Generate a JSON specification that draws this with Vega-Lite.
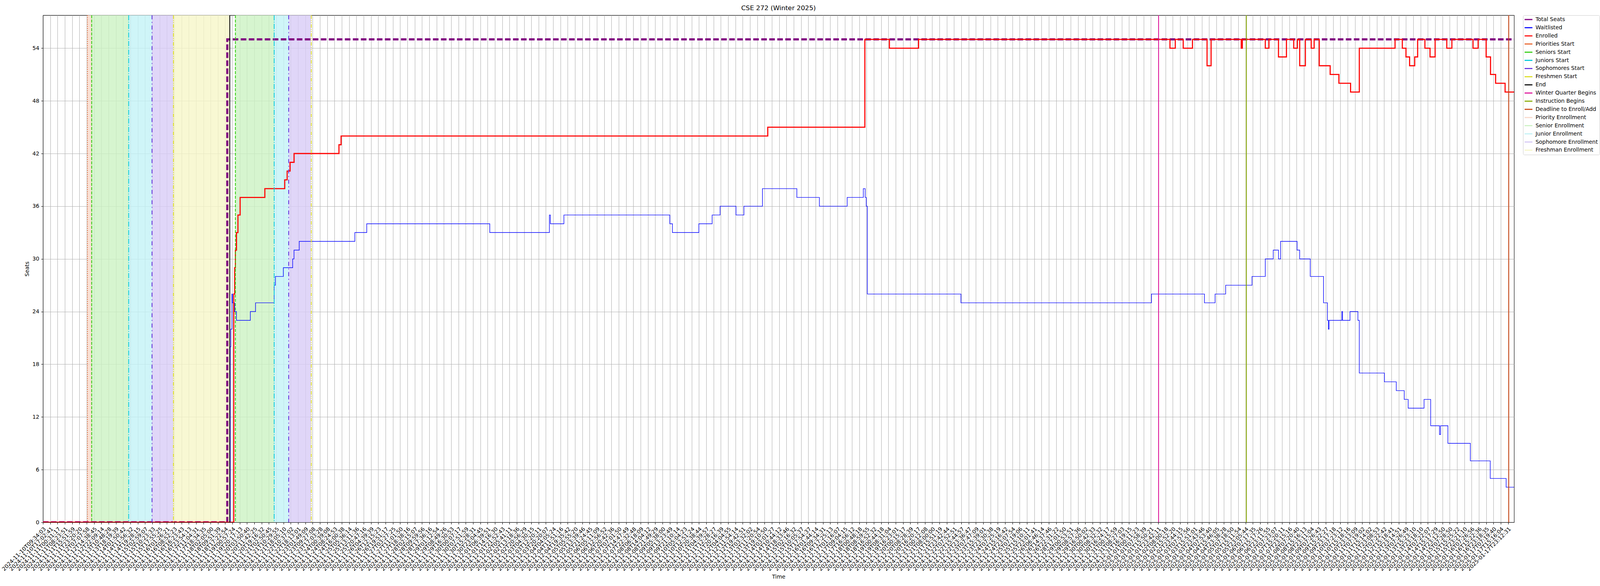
{
  "$schema": "https://vega.github.io/schema/vega-lite/v6.json",
  "width": "container",
  "height": 1500,
  "padding": {"left": 2, "top": 12, "right": 0, "bottom": 16},
  "autosize": {"type": "fit", "contains": "padding"},
  "title": {
    "text": "CSE 272 (Winter 2025)",
    "fontSize": 16.7,
    "fontWeight": "normal",
    "font": "DejaVu Sans",
    "color": "#000000",
    "offset": 8.3,
    "anchor": "middle",
    "frame": "group"
  },
  "params": [
    {
      "name": "tickLabels",
      "value": ["2024-11-10T09:34:03","2024-11-10T17:02:41","2024-11-11T00:31:17","2024-11-11T08:23:51","2024-11-11T15:51:59","2024-11-11T23:20:20","2024-11-12T07:07:58","2024-11-12T14:38:45","2024-11-12T22:09:14","2024-11-13T10:48:28","2024-11-13T18:19:39","2024-11-14T01:50:42","2024-11-14T11:56:32","2024-11-14T19:28:15","2024-11-15T02:59:07","2024-11-15T10:23:33","2024-11-15T17:55:25","2024-11-16T01:26:21","2024-11-16T08:52:23","2024-11-16T16:23:43","2024-11-16T23:54:13","2024-11-17T11:04:31","2024-11-17T18:34:35","2024-11-18T02:05:00","2024-11-18T09:51:39","2024-11-18T17:22:54","2024-11-19T00:57:24","2024-11-19T20:17:13","2024-11-20T03:50:40","2024-11-20T11:42:25","2024-11-20T19:16:32","2024-11-21T02:50:45","2024-11-21T10:29:55","2024-11-21T18:05:10","2024-11-22T10:37:02","2024-11-22T18:13:01","2024-11-23T01:49:09","2024-11-23T09:27:08","2024-11-23T17:03:28","2024-11-24T00:39:08","2024-11-24T08:24:53","2024-11-24T16:00:38","2024-11-25T05:36:14","2024-11-25T13:11:36","2024-11-25T20:47:16","2024-11-26T04:39:39","2024-11-26T12:15:23","2024-11-26T19:51:17","2024-11-27T03:27:25","2024-11-27T11:01:50","2024-11-27T18:38:16","2024-11-28T02:15:07","2024-11-28T09:59:56","2024-11-28T17:36:16","2024-11-29T01:12:54","2024-11-29T08:49:26","2024-11-29T16:30:53","2024-11-30T00:07:17","2024-11-30T07:51:59","2024-11-30T15:28:31","2024-11-30T23:04:45","2024-12-01T06:39:51","2024-12-01T14:16:30","2024-12-01T21:52:43","2024-12-02T05:41:11","2024-12-02T13:18:36","2024-12-02T20:56:29","2024-12-03T04:30:15","2024-12-03T12:20:11","2024-12-03T20:20:07","2024-12-04T04:05:24","2024-12-04T11:51:16","2024-12-04T19:35:42","2024-12-05T05:55:20","2024-12-05T13:39:46","2024-12-05T21:24:45","2024-12-06T05:11:09","2024-12-06T12:56:52","2024-12-06T20:42:36","2024-12-07T07:01:50","2024-12-07T14:47:49","2024-12-07T22:32:48","2024-12-08T06:18:09","2024-12-08T14:04:12","2024-12-08T21:49:29","2024-12-09T05:38:00","2024-12-09T13:23:49","2024-12-09T21:10:14","2024-12-10T05:04:23","2024-12-10T12:51:24","2024-12-10T20:38:44","2024-12-11T04:39:57","2024-12-11T12:28:27","2024-12-11T20:16:39","2024-12-12T04:04:55","2024-12-12T11:54:14","2024-12-12T19:42:51","2024-12-13T03:32:02","2024-12-13T11:20:54","2024-12-13T19:10:50","2024-12-14T03:01:27","2024-12-14T10:44:12","2024-12-14T18:33:46","2024-12-15T02:16:32","2024-12-15T10:05:37","2024-12-15T17:54:37","2024-12-16T01:44:14","2024-12-16T09:34:31","2024-12-16T17:25:13","2024-12-17T01:16:07","2024-12-17T09:04:15","2024-12-17T16:56:12","2024-12-18T00:48:18","2024-12-18T08:59:55","2024-12-18T16:52:32","2024-12-19T00:44:18","2024-12-19T08:31:04","2024-12-19T16:23:01","2024-12-20T00:15:17","2024-12-20T08:28:39","2024-12-20T16:20:17","2024-12-21T00:12:08","2024-12-21T08:00:00","2024-12-21T15:51:19","2024-12-21T23:42:44","2024-12-22T07:52:51","2024-12-22T15:44:57","2024-12-22T23:36:47","2024-12-23T07:47:09","2024-12-23T15:39:01","2024-12-23T23:30:38","2024-12-24T07:25:19","2024-12-24T15:16:42","2024-12-24T23:07:54","2024-12-25T07:19:06","2024-12-25T15:10:11","2024-12-25T23:01:41","2024-12-26T06:46:14","2024-12-26T14:37:46","2024-12-26T22:31:22","2024-12-28T17:01:50","2024-12-29T00:53:51","2024-12-29T08:57:36","2024-12-29T16:50:02","2024-12-30T00:42:33","2024-12-30T08:32:32","2024-12-30T16:24:17","2024-12-31T00:15:59","2024-12-31T08:27:03","2024-12-31T16:19:15","2025-01-01T00:11:23","2025-01-01T07:58:39","2025-01-01T15:50:21","2025-01-01T23:42:11","2025-01-02T08:00:18","2025-01-02T15:52:20","2025-01-02T23:44:15","2025-01-03T07:57:56","2025-01-03T15:51:01","2025-01-03T23:43:46","2025-01-04T07:53:40","2025-01-04T15:46:05","2025-01-04T23:38:28","2025-01-05T07:18:50","2025-01-05T15:11:54","2025-01-05T23:05:44","2025-01-06T07:17:35","2025-01-06T15:17:26","2025-01-06T23:11:55","2025-01-07T07:23:07","2025-01-07T15:20:11","2025-01-07T23:15:16","2025-01-08T07:20:40","2025-01-08T15:16:13","2025-01-08T23:11:04","2025-01-09T07:26:43","2025-01-09T15:22:27","2025-01-09T23:17:18","2025-01-10T07:23:12","2025-01-10T15:18:16","2025-01-10T23:13:09","2025-01-11T07:19:02","2025-01-11T15:14:02","2025-01-11T23:08:53","2025-01-12T07:22:42","2025-01-12T15:18:41","2025-01-12T23:14:51","2025-01-13T07:26:49","2025-01-13T15:23:10","2025-01-13T23:18:10","2025-01-14T07:22:07","2025-01-14T15:17:29","2025-01-14T23:12:50","2025-01-15T07:28:50","2025-01-15T15:25:22","2025-01-15T23:21:10","2025-01-16T07:26:56","2025-01-16T15:22:36","2025-01-16T23:18:35","2025-01-17T07:19:40","2025-01-17T15:16:04","2025-01-17T23:12:31"]
    }
  ],
  "datasets": {
    "spans": [
      {"series": "Priority Enrollment", "start": 6.10, "end": 6.68},
      {"series": "Senior Enrollment", "start": 6.68, "end": 11.76},
      {"series": "Junior Enrollment", "start": 11.76, "end": 14.96},
      {"series": "Sophomore Enrollment", "start": 14.96, "end": 17.90},
      {"series": "Freshman Enrollment", "start": 17.90, "end": 25.63},
      {"series": "Senior Enrollment", "start": 26.40, "end": 31.72},
      {"series": "Junior Enrollment", "start": 31.72, "end": 33.71},
      {"series": "Sophomore Enrollment", "start": 33.71, "end": 36.81}
    ],
    "events": [
      {"series": "Priorities Start", "pos": 6.10},
      {"series": "Seniors Start", "pos": 6.68},
      {"series": "Juniors Start", "pos": 11.76},
      {"series": "Sophomores Start", "pos": 14.96},
      {"series": "Freshmen Start", "pos": 17.90},
      {"series": "End", "pos": 25.63},
      {"series": "Seniors Start", "pos": 26.40},
      {"series": "Juniors Start", "pos": 31.72},
      {"series": "Sophomores Start", "pos": 33.71},
      {"series": "Freshmen Start", "pos": 36.81},
      {"series": "Winter Quarter Begins", "pos": 153.06},
      {"series": "Instruction Begins", "pos": 165.10},
      {"series": "Deadline to Enroll/Add", "pos": 201.10}
    ],
    "seats": [
      {"x": 0, "v": 0},
      {"x": 25.29, "v": 55},
      {"x": 201.83, "v": 55}
    ],
    "waitlisted": [
      {"x": 0, "v": 0}, {"x": 25.70, "v": 20}, {"x": 25.78, "v": 22}, {"x": 25.92, "v": 26},
      {"x": 26.00, "v": 25}, {"x": 26.30, "v": 24}, {"x": 26.55, "v": 23}, {"x": 28.45, "v": 24},
      {"x": 29.17, "v": 25}, {"x": 31.71, "v": 27}, {"x": 31.89, "v": 28}, {"x": 32.98, "v": 29},
      {"x": 34.26, "v": 30}, {"x": 34.44, "v": 31}, {"x": 35.16, "v": 32}, {"x": 42.79, "v": 33},
      {"x": 44.42, "v": 34}, {"x": 61.30, "v": 33}, {"x": 69.48, "v": 35}, {"x": 69.62, "v": 34},
      {"x": 71.47, "v": 35}, {"x": 86.00, "v": 34}, {"x": 86.36, "v": 33}, {"x": 89.99, "v": 34},
      {"x": 91.81, "v": 35}, {"x": 92.90, "v": 36}, {"x": 95.08, "v": 35}, {"x": 96.17, "v": 36},
      {"x": 98.71, "v": 38}, {"x": 103.43, "v": 37}, {"x": 106.52, "v": 36}, {"x": 110.33, "v": 37},
      {"x": 112.55, "v": 38}, {"x": 112.80, "v": 37}, {"x": 112.95, "v": 36}, {"x": 113.10, "v": 26},
      {"x": 125.94, "v": 25}, {"x": 152.08, "v": 26}, {"x": 159.35, "v": 25}, {"x": 160.81, "v": 26},
      {"x": 162.26, "v": 27}, {"x": 165.88, "v": 28}, {"x": 167.70, "v": 30}, {"x": 168.79, "v": 31},
      {"x": 169.51, "v": 30}, {"x": 169.80, "v": 32}, {"x": 172.06, "v": 31}, {"x": 172.42, "v": 30},
      {"x": 173.87, "v": 28}, {"x": 175.69, "v": 25}, {"x": 176.23, "v": 23}, {"x": 176.35, "v": 22},
      {"x": 176.45, "v": 23}, {"x": 178.20, "v": 24}, {"x": 178.30, "v": 23}, {"x": 179.32, "v": 24},
      {"x": 180.41, "v": 23}, {"x": 180.59, "v": 17}, {"x": 184.04, "v": 16}, {"x": 185.67, "v": 15},
      {"x": 186.76, "v": 14}, {"x": 187.30, "v": 13}, {"x": 189.48, "v": 14}, {"x": 190.39, "v": 11},
      {"x": 191.60, "v": 10}, {"x": 191.75, "v": 11}, {"x": 192.75, "v": 9}, {"x": 195.83, "v": 7},
      {"x": 198.56, "v": 5}, {"x": 200.74, "v": 4}, {"x": 201.83, "v": 4}
    ],
    "enrolled": [
      {"x": 0, "v": 0}, {"x": 26.18, "v": 26}, {"x": 26.30, "v": 29}, {"x": 26.40, "v": 31},
      {"x": 26.55, "v": 33}, {"x": 26.75, "v": 35}, {"x": 27.05, "v": 37}, {"x": 30.44, "v": 38},
      {"x": 33.17, "v": 39}, {"x": 33.50, "v": 40}, {"x": 33.90, "v": 41}, {"x": 34.45, "v": 42},
      {"x": 40.61, "v": 43}, {"x": 40.90, "v": 44}, {"x": 99.44, "v": 45}, {"x": 112.76, "v": 55},
      {"x": 116.13, "v": 54}, {"x": 120.13, "v": 55}, {"x": 154.62, "v": 54}, {"x": 155.35, "v": 55},
      {"x": 156.44, "v": 54}, {"x": 157.71, "v": 55}, {"x": 159.71, "v": 52}, {"x": 160.26, "v": 55},
      {"x": 164.40, "v": 54}, {"x": 164.55, "v": 55}, {"x": 167.70, "v": 54}, {"x": 168.20, "v": 55},
      {"x": 169.51, "v": 53}, {"x": 170.60, "v": 55}, {"x": 171.60, "v": 54}, {"x": 172.10, "v": 55},
      {"x": 172.42, "v": 52}, {"x": 173.20, "v": 55}, {"x": 174.00, "v": 54}, {"x": 174.40, "v": 55},
      {"x": 175.10, "v": 52}, {"x": 176.60, "v": 51}, {"x": 177.80, "v": 50}, {"x": 179.40, "v": 49},
      {"x": 180.60, "v": 54}, {"x": 185.50, "v": 55}, {"x": 186.50, "v": 54}, {"x": 187.00, "v": 53},
      {"x": 187.50, "v": 52}, {"x": 188.20, "v": 53}, {"x": 188.60, "v": 55}, {"x": 189.60, "v": 54},
      {"x": 190.30, "v": 53}, {"x": 191.00, "v": 55}, {"x": 192.60, "v": 54}, {"x": 193.30, "v": 55},
      {"x": 196.20, "v": 54}, {"x": 196.90, "v": 55}, {"x": 198.00, "v": 53}, {"x": 198.60, "v": 51},
      {"x": 199.30, "v": 50}, {"x": 200.60, "v": 49}, {"x": 201.83, "v": 49}
    ]
  },
  "config": {
    "font": "DejaVu Sans",
    "view": {"stroke": "#000000", "strokeWidth": 1.1},
    "axis": {
      "grid": true,
      "gridColor": "#b0b0b0",
      "gridWidth": 1.1,
      "domainColor": "#000000",
      "domainWidth": 1.1,
      "tickColor": "#000000",
      "tickWidth": 1.1,
      "tickSize": 4.9,
      "labelPadding": 4.9,
      "labelFont": "DejaVu Sans",
      "labelFontSize": 13.9,
      "labelColor": "#000000",
      "titleFont": "DejaVu Sans",
      "titleFontSize": 13.9,
      "titleFontWeight": "normal",
      "titleColor": "#000000",
      "titlePadding": 5.6
    },
    "axisX": {
      "labelOverlap": false,
      "labelFlush": false,
      "labelBound": false,
      "labelLimit": 400
    },
    "legend": {
      "titleFontSize": 0,
      "labelFont": "DejaVu Sans",
      "labelFontSize": 13.9,
      "labelColor": "#000000"
    }
  },
  "layer": [
    {
      "data": {"name": "spans"},
      "mark": {"type": "rect", "opacity": 0.8},
      "encoding": {
        "x": {
          "field": "start",
          "type": "quantitative",
          "title": "Time",
          "scale": {"domain": [0, 201.83], "nice": false, "zero": false},
          "axis": {
            "values": [0,1,2,3,4,5,6,7,8,9,10,11,12,13,14,15,16,17,18,19,20,21,22,23,24,25,26,27,28,29,30,31,32,33,34,35,36,37,38,39,40,41,42,43,44,45,46,47,48,49,50,51,52,53,54,55,56,57,58,59,60,61,62,63,64,65,66,67,68,69,70,71,72,73,74,75,76,77,78,79,80,81,82,83,84,85,86,87,88,89,90,91,92,93,94,95,96,97,98,99,100,101,102,103,104,105,106,107,108,109,110,111,112,113,114,115,116,117,118,119,120,121,122,123,124,125,126,127,128,129,130,131,132,133,134,135,136,137,138,139,140,141,142,143,144,145,146,147,148,149,150,151,152,153,154,155,156,157,158,159,160,161,162,163,164,165,166,167,168,169,170,171,172,173,174,175,176,177,178,179,180,181,182,183,184,185,186,187,188,189,190,191,192,193,194,195,196,197,198,199,200,201],
            "labelExpr": "tickLabels[datum.value]",
            "labelAngle": -45,
            "labelAlign": "right",
            "labelBaseline": "top",
            "labelOverlap": false,
            "labelFlush": false,
            "labelBound": false,
            "labelLimit": 400,
            "title": "Time"
          }
        },
        "x2": {"field": "end"},
        "color": {
          "field": "series",
          "type": "nominal",
          "scale": {
            "domain": ["Total Seats", "Waitlisted", "Enrolled", "Priorities Start", "Seniors Start", "Juniors Start", "Sophomores Start", "Freshmen Start", "End", "Winter Quarter Begins", "Instruction Begins", "Deadline to Enroll/Add", "Priority Enrollment", "Senior Enrollment", "Junior Enrollment", "Sophomore Enrollment", "Freshman Enrollment"],
            "range": ["#800080", "#0000ff", "#ff0000", "#e8622a", "#33cc11", "#11ccdd", "#6633dd", "#dddd22", "#000000", "#dd1199", "#88aa00", "#cc4411", "#f9d8c9", "#ccf2c3", "#c3f2f6", "#d8ccf6", "#f6f6c8"]
          },
          "legend": {
            "title": null,
            "orient": "right",
            "offset": 23,
            "padding": 4,
            "strokeColor": "#cccccc",
            "fillColor": "#ffffff",
            "cornerRadius": 3,
            "labelOffset": 8,
            "symbolType": "M-1,-0.14L1,-0.14L1,0.14L-1,0.14Z",
            "symbolSize": 400,
            "symbolOpacity": 1,
            "symbolStrokeWidth": 0,
            "clipHeight": 14,
            "rowPadding": 6.9,
            "symbolLimit": 0,
            "labelLimit": 400
          }
        }
      }
    },
    {
      "data": {"name": "seats"},
      "mark": {"type": "line", "interpolate": "step-after", "strokeWidth": 5.5, "strokeDash": [14.3, 6.2], "clip": true},
      "encoding": {
        "x": {
          "field": "x",
          "type": "quantitative",
          "title": "Time",
          "scale": {"domain": [0, 201.83], "nice": false, "zero": false},
          "axis": {
            "values": [0,1,2,3,4,5,6,7,8,9,10,11,12,13,14,15,16,17,18,19,20,21,22,23,24,25,26,27,28,29,30,31,32,33,34,35,36,37,38,39,40,41,42,43,44,45,46,47,48,49,50,51,52,53,54,55,56,57,58,59,60,61,62,63,64,65,66,67,68,69,70,71,72,73,74,75,76,77,78,79,80,81,82,83,84,85,86,87,88,89,90,91,92,93,94,95,96,97,98,99,100,101,102,103,104,105,106,107,108,109,110,111,112,113,114,115,116,117,118,119,120,121,122,123,124,125,126,127,128,129,130,131,132,133,134,135,136,137,138,139,140,141,142,143,144,145,146,147,148,149,150,151,152,153,154,155,156,157,158,159,160,161,162,163,164,165,166,167,168,169,170,171,172,173,174,175,176,177,178,179,180,181,182,183,184,185,186,187,188,189,190,191,192,193,194,195,196,197,198,199,200,201],
            "labelExpr": "tickLabels[datum.value]",
            "labelAngle": -45,
            "labelAlign": "right",
            "labelBaseline": "top",
            "labelOverlap": false,
            "labelFlush": false,
            "labelBound": false,
            "labelLimit": 400,
            "title": "Time"
          }
        },
        "y": {
          "field": "v",
          "type": "quantitative",
          "title": "Seats",
          "scale": {"domain": [0, 57.75], "nice": false, "zero": false},
          "axis": {"values": [0, 6, 12, 18, 24, 30, 36, 42, 48, 54], "title": "Seats"}
        },
        "color": {"datum": "Total Seats"}
      }
    },
    {
      "data": {"name": "waitlisted"},
      "mark": {"type": "line", "interpolate": "step-after", "strokeWidth": 1.4, "clip": true},
      "encoding": {
        "x": {
          "field": "x",
          "type": "quantitative",
          "title": "Time",
          "axis": {
            "values": [0,1,2,3,4,5,6,7,8,9,10,11,12,13,14,15,16,17,18,19,20,21,22,23,24,25,26,27,28,29,30,31,32,33,34,35,36,37,38,39,40,41,42,43,44,45,46,47,48,49,50,51,52,53,54,55,56,57,58,59,60,61,62,63,64,65,66,67,68,69,70,71,72,73,74,75,76,77,78,79,80,81,82,83,84,85,86,87,88,89,90,91,92,93,94,95,96,97,98,99,100,101,102,103,104,105,106,107,108,109,110,111,112,113,114,115,116,117,118,119,120,121,122,123,124,125,126,127,128,129,130,131,132,133,134,135,136,137,138,139,140,141,142,143,144,145,146,147,148,149,150,151,152,153,154,155,156,157,158,159,160,161,162,163,164,165,166,167,168,169,170,171,172,173,174,175,176,177,178,179,180,181,182,183,184,185,186,187,188,189,190,191,192,193,194,195,196,197,198,199,200,201],
            "labelExpr": "tickLabels[datum.value]",
            "labelAngle": -45,
            "labelAlign": "right",
            "labelBaseline": "top",
            "labelOverlap": false,
            "labelFlush": false,
            "labelBound": false,
            "labelLimit": 400,
            "title": "Time"
          }
        },
        "y": {"field": "v", "type": "quantitative", "title": "Seats"},
        "color": {"datum": "Waitlisted"}
      }
    },
    {
      "data": {"name": "enrolled"},
      "mark": {"type": "line", "interpolate": "step-after", "strokeWidth": 2.8, "clip": true},
      "encoding": {
        "x": {
          "field": "x",
          "type": "quantitative",
          "title": "Time",
          "axis": {
            "values": [0,1,2,3,4,5,6,7,8,9,10,11,12,13,14,15,16,17,18,19,20,21,22,23,24,25,26,27,28,29,30,31,32,33,34,35,36,37,38,39,40,41,42,43,44,45,46,47,48,49,50,51,52,53,54,55,56,57,58,59,60,61,62,63,64,65,66,67,68,69,70,71,72,73,74,75,76,77,78,79,80,81,82,83,84,85,86,87,88,89,90,91,92,93,94,95,96,97,98,99,100,101,102,103,104,105,106,107,108,109,110,111,112,113,114,115,116,117,118,119,120,121,122,123,124,125,126,127,128,129,130,131,132,133,134,135,136,137,138,139,140,141,142,143,144,145,146,147,148,149,150,151,152,153,154,155,156,157,158,159,160,161,162,163,164,165,166,167,168,169,170,171,172,173,174,175,176,177,178,179,180,181,182,183,184,185,186,187,188,189,190,191,192,193,194,195,196,197,198,199,200,201],
            "labelExpr": "tickLabels[datum.value]",
            "labelAngle": -45,
            "labelAlign": "right",
            "labelBaseline": "top",
            "labelOverlap": false,
            "labelFlush": false,
            "labelBound": false,
            "labelLimit": 400,
            "title": "Time"
          }
        },
        "y": {"field": "v", "type": "quantitative", "title": "Seats"},
        "color": {"datum": "Enrolled"}
      }
    },
    {
      "data": {"name": "events"},
      "mark": {"type": "rule", "strokeWidth": 2.1},
      "encoding": {
        "x": {
          "field": "pos",
          "type": "quantitative",
          "title": "Time",
          "axis": {
            "values": [0,1,2,3,4,5,6,7,8,9,10,11,12,13,14,15,16,17,18,19,20,21,22,23,24,25,26,27,28,29,30,31,32,33,34,35,36,37,38,39,40,41,42,43,44,45,46,47,48,49,50,51,52,53,54,55,56,57,58,59,60,61,62,63,64,65,66,67,68,69,70,71,72,73,74,75,76,77,78,79,80,81,82,83,84,85,86,87,88,89,90,91,92,93,94,95,96,97,98,99,100,101,102,103,104,105,106,107,108,109,110,111,112,113,114,115,116,117,118,119,120,121,122,123,124,125,126,127,128,129,130,131,132,133,134,135,136,137,138,139,140,141,142,143,144,145,146,147,148,149,150,151,152,153,154,155,156,157,158,159,160,161,162,163,164,165,166,167,168,169,170,171,172,173,174,175,176,177,178,179,180,181,182,183,184,185,186,187,188,189,190,191,192,193,194,195,196,197,198,199,200,201],
            "labelExpr": "tickLabels[datum.value]",
            "labelAngle": -45,
            "labelAlign": "right",
            "labelBaseline": "top",
            "labelOverlap": false,
            "labelFlush": false,
            "labelBound": false,
            "labelLimit": 400,
            "title": "Time"
          }
        },
        "color": {"field": "series", "type": "nominal"},
        "strokeDash": {
          "field": "series",
          "type": "nominal",
          "legend": null,
          "scale": {
            "domain": ["Priorities Start", "Seniors Start", "Juniors Start", "Sophomores Start", "Freshmen Start", "End", "Winter Quarter Begins", "Instruction Begins", "Deadline to Enroll/Add"],
            "range": [[2.1, 3.4], [7.7, 3.3], [13.3, 3.3, 2.1, 3.3], [10.4, 6.9, 2.1, 6.9], [9.4, 3.1, 2.1, 3.1, 2.1, 3.1], [1, 0], [1, 0], [1, 0], [1, 0]]
          }
        }
      }
    }
  ]
}
